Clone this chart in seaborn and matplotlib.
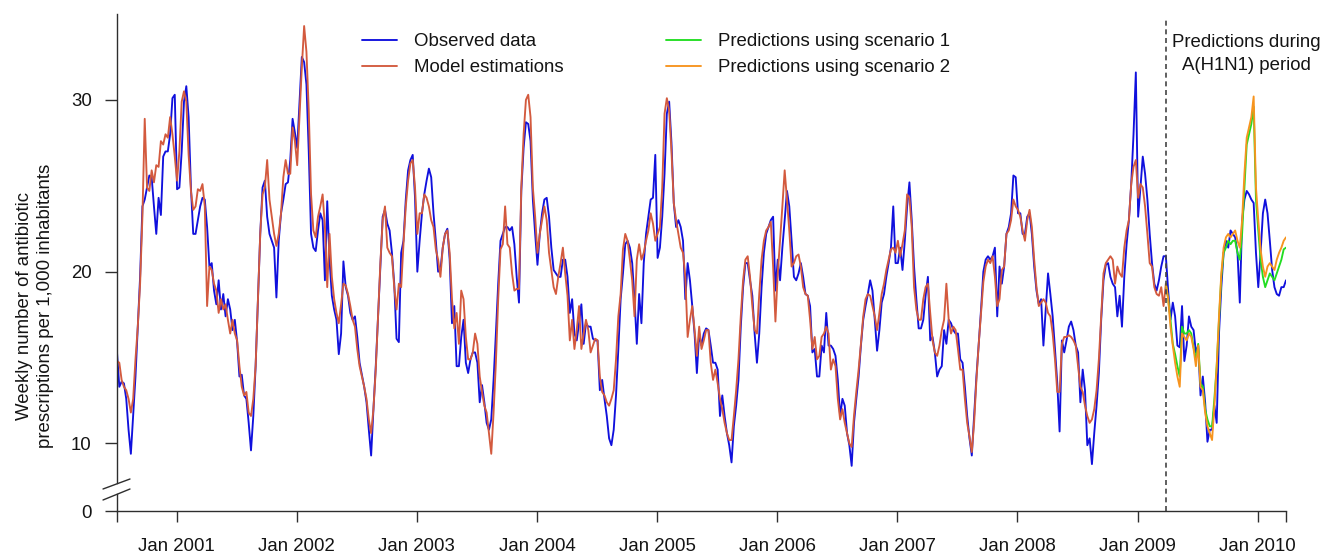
import numpy as np
import pandas as pd
import matplotlib
matplotlib.use("Agg")
import matplotlib.pyplot as plt
import matplotlib.dates as mdates
from matplotlib.lines import Line2D
import seaborn as sns

# ---------------- data ----------------
start_date = "2000-07-03"
end_date = "2010-03-28"

observed = [
    15.3, 13.3, 13.6, 13.5, 12.6, 10.8, 9.4, 11.6, 13.9, 16.8,
    19.7, 23.8, 24.2, 24.9, 25.6, 25.5, 23.8, 22.2, 24.3, 23.3,
    26.7, 27.0, 27.0, 28.0, 30.1, 30.3, 24.8, 24.9, 27.0, 29.9,
    30.8, 29.0, 24.9, 22.2, 22.2, 23.0, 23.8, 24.3, 24.2, 22.6,
    20.3, 20.5, 18.9, 18.1, 19.5, 17.8, 18.7, 17.4, 18.4, 17.8,
    16.6, 17.2, 15.9, 13.9, 14.0, 12.8, 12.6, 11.2, 9.6, 11.6,
    14.5, 18.4, 22.2, 24.9, 25.3, 23.2, 22.2, 21.8, 21.4, 18.5,
    21.8, 23.4, 24.2, 25.1, 25.2, 26.5, 28.9, 28.1, 27.2, 29.9,
    32.5, 32.2, 30.9, 27.0, 22.2, 21.4, 21.2, 22.4, 23.4, 23.0,
    19.5, 24.1, 20.7, 18.6, 17.8, 17.2, 15.2, 16.4, 20.6, 19.1,
    18.6, 17.6, 17.2, 17.4, 16.2, 14.7, 14.0, 13.3, 12.4, 10.8,
    9.3, 12.0, 14.5, 17.4, 20.3, 23.2, 23.6, 22.8, 22.4, 21.1,
    19.3, 16.1, 15.9, 21.1, 21.8, 24.2, 25.9, 26.5, 26.8, 24.3,
    20.0, 21.8, 23.4, 24.5, 25.3, 26.0, 25.5, 23.4, 21.8, 20.0,
    20.1, 21.4, 22.2, 22.5, 20.7, 17.0, 18.0, 14.5, 14.5, 16.2,
    17.2, 14.7, 14.1, 14.9, 15.3, 15.3, 14.7, 12.4, 13.4, 12.4,
    11.2, 10.8, 11.4, 13.7, 16.4, 19.3, 21.8, 22.2, 22.6, 22.6,
    22.4, 22.6, 21.6, 19.7, 18.2, 24.7, 27.2, 28.7, 28.6, 27.6,
    24.2, 22.2, 20.4, 22.2, 23.4, 24.2, 24.3, 23.2, 21.4, 20.1,
    19.9, 19.7, 19.7, 20.7, 20.7, 19.7, 17.6, 18.4, 16.4, 16.0,
    17.0, 18.1, 15.8, 17.0, 16.8, 16.8, 16.1, 16.0, 16.0, 13.1,
    13.7, 12.6, 11.6, 10.3, 9.9, 10.8, 12.8, 15.5, 18.4, 19.9,
    21.6, 21.8, 21.4, 20.5, 18.4, 15.8, 18.7, 17.0, 20.5, 22.2,
    23.2, 24.2, 24.3, 26.8, 20.8, 21.4, 23.2, 25.7, 29.2, 29.9,
    27.5, 24.0, 22.6, 23.0, 22.6, 21.8, 18.4, 20.5, 19.5, 18.0,
    16.4, 14.1, 16.4, 15.7, 16.4, 16.7, 16.6, 15.7, 14.7, 14.7,
    14.3, 11.6, 12.8, 11.6, 10.6, 9.9, 8.9, 11.0, 12.2, 13.7,
    16.8, 19.1, 20.5, 20.5, 19.5, 18.6, 16.4, 14.7, 16.4, 19.1,
    21.1, 22.2, 22.6, 23.0, 23.2, 18.9, 20.7, 19.5, 21.4, 23.0,
    24.7, 23.8, 21.8, 19.7, 19.5, 19.9, 20.5, 19.7, 18.7, 18.6,
    18.0, 15.3, 15.5, 13.9, 13.9, 15.7, 15.3, 17.6, 15.7, 15.7,
    15.5, 15.1, 13.7, 11.6, 12.6, 12.2, 10.6, 9.9, 8.7, 11.2,
    12.6, 13.9, 15.7, 17.2, 18.0, 18.7, 19.5, 18.9, 17.2, 15.4,
    16.6, 18.2, 18.7, 19.7, 20.5, 21.4, 23.8, 20.5, 20.5, 21.4,
    20.1, 21.8, 23.8, 25.2, 23.0, 20.3, 18.4, 16.7, 16.7, 17.2,
    18.6, 19.7, 16.0, 16.2, 15.3, 13.9, 14.3, 14.5, 16.6, 15.8,
    17.2, 17.0, 16.6, 16.4, 16.4, 14.9, 14.7, 13.3, 11.6, 10.3,
    9.3, 11.6, 13.9, 15.8, 17.8, 20.0, 20.7, 20.9, 20.7, 20.9,
    21.4, 17.4, 20.3, 19.3, 20.3, 22.2, 22.6, 23.4, 25.6, 25.5,
    23.4, 23.4, 22.2, 22.2, 23.2, 23.4, 22.2, 20.3, 18.9, 18.1,
    18.4, 15.7, 17.8, 19.9, 18.7, 17.4, 15.5, 13.5, 10.7, 16.0,
    15.3, 16.0, 16.8, 17.1, 16.6, 15.7, 15.3, 12.4, 14.3, 13.1,
    9.9, 10.3, 8.8, 10.6, 12.2, 14.1, 17.2, 19.5, 20.4, 20.5,
    19.7, 19.3, 19.1, 17.4, 18.6, 16.8, 19.7, 21.6, 23.0, 25.1,
    28.0, 31.6, 23.2, 24.9, 26.7, 25.7, 24.2, 22.2, 20.5, 19.3,
    18.9, 19.5, 20.3, 20.9, 20.9, 18.9, 17.2, 18.2, 17.4, 15.7,
    15.6, 18.0, 14.8, 15.7, 17.4, 16.8, 16.6, 15.3, 15.7, 12.8,
    13.9, 12.4, 10.1, 10.8, 10.8, 12.2, 11.2, 16.4, 19.1, 21.1,
    21.8, 21.4, 22.4, 22.2, 22.0, 21.1, 18.2, 23.0, 24.2, 24.7,
    24.5, 24.2, 24.0, 21.1, 19.1, 21.1, 23.4, 24.2, 23.4, 21.8,
    20.1, 19.1, 18.7, 18.6, 19.1, 19.1, 19.5,
]

model = [
    14.8, 14.7, 13.7, 13.3, 13.1, 12.6, 11.8, 12.6, 14.9, 16.8,
    19.3, 23.2, 28.9, 24.9, 24.7, 25.9, 25.2, 26.2, 26.1, 27.6,
    27.4, 28.0, 27.8, 29.0, 28.0, 26.7, 25.3, 27.0, 29.9, 30.5,
    29.9, 26.8, 24.7, 23.6, 23.8, 24.8, 24.7, 25.1, 23.8, 18.0,
    20.3, 20.1, 19.3, 18.9, 17.6, 18.4, 17.8, 18.1, 17.2, 16.4,
    17.2, 16.4, 16.0, 14.5, 13.3, 12.8, 13.0, 11.8, 11.6, 12.6,
    14.5, 18.4, 22.2, 24.5, 24.9, 26.5, 24.2, 23.2, 22.2, 21.5,
    22.2, 23.4, 25.5, 26.5, 25.7, 25.7, 28.4, 27.6, 26.2, 29.0,
    31.9, 34.3, 32.8, 29.4, 24.5, 22.4, 22.0, 23.2, 23.8, 24.5,
    22.6, 19.1, 22.2, 19.7, 18.4, 17.6, 17.0, 18.1, 19.3, 19.2,
    18.7, 18.0, 17.2, 16.8, 15.5, 14.5, 13.9, 13.3, 12.6, 11.4,
    10.6, 12.0, 14.3, 17.4, 20.5, 23.0, 23.8, 21.4, 21.1, 20.9,
    19.1, 17.8, 19.3, 19.1, 21.6, 23.8, 25.3, 26.3, 26.5, 24.9,
    22.2, 23.4, 23.4, 24.5, 24.3, 23.8, 23.0, 22.6, 21.3, 20.7,
    19.7, 21.4, 22.2, 22.4, 21.1, 18.4, 16.7, 17.6, 15.8, 18.9,
    18.4, 16.2, 14.9, 14.9, 15.3, 16.4, 15.8, 13.9, 13.0, 12.2,
    11.8, 10.6, 9.4, 11.8, 14.7, 18.4, 21.3, 21.6, 23.8, 21.6,
    21.4, 19.9, 18.9, 19.0, 19.0, 24.9, 28.0, 30.0, 30.3, 29.0,
    24.9, 23.2, 21.1, 22.2, 23.0, 23.8, 23.0, 21.1, 20.1, 19.1,
    18.7, 19.7, 20.5, 21.4, 19.9, 18.6, 16.0, 17.2, 15.5, 16.6,
    18.0, 15.5, 16.4, 17.2, 16.6, 15.3, 15.7, 16.1, 16.0, 13.9,
    13.0, 12.8, 12.4, 12.2, 12.6, 13.1, 14.9, 17.4, 18.7, 21.3,
    22.2, 21.8, 20.7, 19.5, 17.4, 20.7, 21.6, 20.7, 21.1, 21.8,
    22.4, 23.4, 22.8, 21.8, 22.2, 22.6, 24.9, 29.2, 30.1, 29.4,
    27.0, 24.0, 23.0, 22.2, 21.4, 21.1, 19.7, 16.2, 17.2, 18.0,
    16.6, 15.1, 16.8, 15.5, 16.0, 16.6, 16.6, 14.7, 13.7, 14.3,
    13.5, 12.6, 12.0, 11.2, 10.6, 10.2, 10.2, 11.6, 13.1, 14.9,
    17.4, 19.5, 20.7, 20.9, 19.7, 18.0, 16.6, 16.4, 18.7, 20.7,
    21.8, 22.4, 22.6, 22.9, 20.3, 17.1, 19.9, 21.8, 23.8, 25.9,
    24.2, 22.4, 20.3, 20.5, 20.9, 21.0, 20.3, 19.1, 18.7, 18.6,
    17.2, 15.5, 16.2, 14.9, 15.1, 16.2, 16.4, 16.8, 16.4, 14.3,
    14.9, 14.5, 12.6, 11.4, 12.0, 11.2, 10.6, 10.0, 9.8, 11.6,
    13.0, 14.3, 15.8, 17.4, 18.4, 18.7, 18.6, 18.0, 17.4, 16.6,
    17.6, 18.7, 19.3, 20.1, 20.7, 21.3, 21.4, 21.1, 21.8, 20.9,
    21.6, 22.4, 24.5, 24.3, 22.6, 19.1, 17.8, 17.2, 17.2, 18.4,
    19.1, 19.3, 17.6, 16.0, 15.3, 15.1, 15.7, 16.6, 17.2, 19.3,
    17.2, 16.4, 16.8, 16.6, 15.5, 14.3, 14.3, 12.6, 11.2, 10.4,
    9.5, 11.2, 13.7, 15.8, 17.6, 19.4, 20.3, 20.7, 20.5, 20.9,
    19.7, 18.0, 18.4, 20.1, 20.3, 22.2, 22.4, 23.0, 24.2, 23.8,
    23.6, 23.2, 22.4, 21.8, 23.0, 23.6, 22.6, 20.7, 19.1, 18.0,
    18.2, 18.4, 18.2, 17.6, 17.4, 16.4, 14.9, 13.0, 13.0, 15.8,
    16.2, 16.2, 16.3, 16.2, 16.0, 15.7, 14.5, 13.3, 13.0, 12.2,
    11.6, 11.2, 11.4, 12.0, 13.1, 14.9, 17.4, 19.9, 20.5, 20.7,
    20.9, 20.7, 19.3, 20.3, 19.9, 19.7, 21.4, 22.4, 23.0, 25.1,
    26.1, 26.5, 24.3, 25.1, 24.9, 23.8, 22.2, 20.5, 20.3, 19.1,
    18.7, 18.6, 19.1, 18.0, 19.3,
]

scenario1 = [
    19.3, 18.4, 17.2, 15.8, 15.2, 14.5, 13.9, 16.8, 16.4, 16.4,
    16.6, 16.4, 15.6, 14.9, 15.8, 13.5, 13.3, 12.0, 11.4, 11.0,
    11.0, 12.6, 14.5, 17.2, 19.7, 21.1, 21.4, 21.8, 21.6, 21.8,
    21.8, 21.1, 20.7, 22.2, 24.9, 27.4, 28.0, 28.6, 29.6, 24.2,
    22.4, 20.7, 19.7, 19.1, 19.5, 19.9, 19.7, 19.5, 19.9, 20.3,
    20.7, 21.3, 21.4,
]

scenario2 = [
    19.3, 18.4, 16.8, 15.7, 14.7, 13.9, 13.3, 16.4, 16.2, 16.0,
    16.4, 16.2, 15.5, 14.5, 15.7, 13.3, 13.1, 11.8, 11.0, 10.6,
    10.2, 12.2, 14.5, 17.4, 19.9, 21.4, 22.0, 22.2, 22.0, 22.2,
    22.4, 21.8, 21.4, 23.0, 25.7, 27.8, 28.4, 29.0, 30.2, 24.9,
    23.0, 21.3, 20.3, 19.7, 20.3, 20.5, 20.3, 20.1, 20.7, 21.1,
    21.4, 21.8, 22.0,
]

tick_years = [2001, 2002, 2003, 2004, 2005, 2006, 2007, 2008, 2009, 2010]
tick_labels = [f"Jan {y}" for y in tick_years]
y_ticks = [10, 20, 30]
legend_labels = ["Observed data", "Model estimations",
                 "Predictions using scenario 1", "Predictions using scenario 2"]
annotation = "Predictions during\nA(H1N1) period"
ylabel_text = "Weekly number of antibiotic\nprescriptions per 1,000 inhabitants"

# ---------------- build tables ----------------
dates = pd.date_range(start=start_date, end=end_date, periods=len(observed))
split = len(model) - 1
obs_df = pd.DataFrame({"date": dates, "value": observed})
model_df = pd.DataFrame({"date": dates[:len(model)], "value": model})
s1_df = pd.DataFrame({"date": dates[split:split + len(scenario1)], "value": scenario1})
s2_df = pd.DataFrame({"date": dates[split:split + len(scenario2)], "value": scenario2})
h1n1_start = dates[split]

# ---------------- style ----------------
sns.set_theme(style="ticks")
plt.rcParams["font.family"] = ["Liberation Sans", "DejaVu Sans"]
FS = 13.4
TXT = "#141414"
AX = "#2e2e2e"
C_OBS = "#1010DD"
C_MOD = "#D35A3E"
C_S1 = "#22DD22"
C_S2 = "#F7941E"

W, H = 1336, 555
fig = plt.figure(figsize=(W / 100, H / 100), dpi=100)

def fx(px):
    return px / W

def fy(py):
    return 1 - py / H

left, right = 117, 1286
top_ax = fig.add_axes([fx(left), fy(483), fx(right - left), (483 - 14) / H])
bot_ax = fig.add_axes([fx(left), fy(511), fx(right - left), (511 - 494) / H], sharex=top_ax)

LW = 1.35
sns.lineplot(data=obs_df, x="date", y="value", ax=top_ax, color=C_OBS, lw=LW,
             label=legend_labels[0], estimator=None)
sns.lineplot(data=model_df, x="date", y="value", ax=top_ax, color=C_MOD, lw=LW,
             label=legend_labels[1], estimator=None)
sns.lineplot(data=s1_df, x="date", y="value", ax=top_ax, color=C_S1, lw=LW,
             label=legend_labels[2], estimator=None)
sns.lineplot(data=s2_df, x="date", y="value", ax=top_ax, color=C_S2, lw=LW,
             label=legend_labels[3], estimator=None)

top_ax.set_ylim(7.70, 35.0)
top_ax.set_xlim(dates[0], dates[-1])
top_ax.set_xlabel("")
top_ax.set_ylabel("")
top_ax.set_yticks(y_ticks)
top_ax.set_yticklabels([str(v) for v in y_ticks])
for s in ["top", "right", "bottom"]:
    top_ax.spines[s].set_visible(False)
top_ax.spines["left"].set_color(AX)
top_ax.spines["left"].set_linewidth(1.0)
top_ax.tick_params(axis="x", which="both", bottom=False, labelbottom=False)
top_ax.tick_params(axis="y", length=8.6, width=1.0, color=AX, pad=9.5,
                   labelsize=FS, labelcolor=TXT)

# bottom (zero) strip
bot_ax.set_ylim(0, 1)
bot_ax.set_yticks([0])
bot_ax.set_yticklabels(["0"])
for s in ["top", "right"]:
    bot_ax.spines[s].set_visible(False)
for s in ["left", "bottom"]:
    bot_ax.spines[s].set_color(AX)
    bot_ax.spines[s].set_linewidth(1.0)
bot_ax.patch.set_alpha(0)
xt = [dates[0]] + [pd.Timestamp(f"{y}-01-01") for y in tick_years] + [dates[-1]]
bot_ax.set_xticks(xt)
bot_ax.set_xticklabels([""] + tick_labels + [""])
bot_ax.tick_params(axis="x", length=8.0, width=1.0, color=AX, pad=11.5,
                   labelsize=FS, labelcolor=TXT)
bot_ax.tick_params(axis="y", length=8.6, width=1.0, color=AX, pad=9.5,
                   labelsize=FS, labelcolor=TXT)
top_ax.set_xlim(dates[0], dates[-1])

# axis break marks
for (x0, y0, x1, y1) in [(103, 489, 130, 479), (103, 500, 130, 489)]:
    fig.add_artist(Line2D([fx(x0), fx(x1)], [fy(y0), fy(y1)], color=AX, lw=1.0,
                          transform=fig.transFigure))

# dashed separator for the H1N1 period
top_ax.axvline(h1n1_start, ymin=-(511 - 483) / 469, ymax=(483 - 18) / 469,
               color="#444444", lw=1.2, linestyle=(0, (3, 2.2)), clip_on=False)

# annotation
fig.text(fx(1246), fy(54), annotation, ha="center", va="center",
         fontsize=FS, color=TXT, linespacing=1.48, multialignment="center")

# y label
fig.text(fx(35), fy(306), ylabel_text, rotation=90, ha="center", va="center",
         fontsize=FS, color=TXT, linespacing=1.24, multialignment="center")

# legend
handles, labels = top_ax.get_legend_handles_labels()
leg = top_ax.legend(handles, labels, ncol=2, loc="upper left",
                    bbox_to_anchor=(fx(362), fy(33)), bbox_transform=fig.transFigure,
                    frameon=False, fontsize=FS, handlelength=1.9, handletextpad=0.9,
                    columnspacing=5.5, labelspacing=0.5, borderpad=0, borderaxespad=0)
for t in leg.get_texts():
    t.set_color(TXT)

fig.savefig("out.png", dpi=100)
